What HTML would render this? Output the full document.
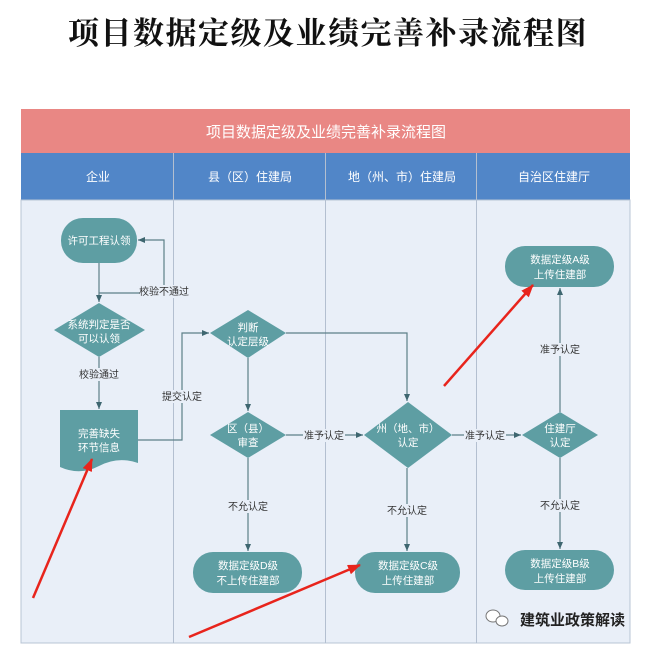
<!DOCTYPE html>
<html><head><meta charset="utf-8"><style>
html,body{margin:0;padding:0;background:#fff;}
svg{display:block;}
text{font-family:"Liberation Sans","Noto Sans CJK SC",sans-serif;}
</style></head><body>
<svg width="650" height="649" viewBox="0 0 650 649" xmlns="http://www.w3.org/2000/svg">
<defs>
<marker id="ar" markerWidth="8" markerHeight="8" refX="7" refY="4" orient="auto" markerUnits="userSpaceOnUse"><path d="M0,1 L7,4 L0,7 Z" fill="#3e6670"/></marker>
<marker id="rd" markerWidth="14" markerHeight="14" refX="12" refY="7" orient="auto" markerUnits="userSpaceOnUse"><path d="M0,2 L13,7 L0,12 Z" fill="#e8241c"/></marker>
</defs>
<text x="328" y="44" text-anchor="middle" font-size="31" font-weight="bold" fill="#111" style="font-family:'Noto Serif CJK SC',serif" letter-spacing="1.5">项目数据定级及业绩完善补录流程图</text>
<rect x="21" y="109" width="609" height="44" fill="#e98784"/>
<text x="326" y="137" text-anchor="middle" font-size="15" fill="#fff">项目数据定级及业绩完善补录流程图</text>
<rect x="21" y="153" width="609" height="47" fill="#5186c8"/>
<g font-size="12" fill="#fff" text-anchor="middle">
<text x="98" y="181">企业</text><text x="250" y="181">县（区）住建局</text><text x="402" y="181">地（州、市）住建局</text><text x="554" y="181">自治区住建厅</text>
</g>
<rect x="21" y="200" width="609" height="443" fill="#e9eff8" stroke="#b8c4d4"/>
<g stroke="#b3bfd0" stroke-width="1">
<line x1="173.5" y1="153" x2="173.5" y2="643"/><line x1="325.5" y1="153" x2="325.5" y2="643"/><line x1="476.5" y1="153" x2="476.5" y2="643"/>
</g>
<g stroke="#5d7f88" stroke-width="1.2" fill="none">
<line x1="99" y1="263" x2="99" y2="302" marker-end="url(#ar)"/>
<polyline points="99,293 164,293 164,240 138,240" marker-end="url(#ar)"/>
<line x1="99" y1="357" x2="99" y2="409" marker-end="url(#ar)"/>
<polyline points="138,440 182,440 182,333 209,333" marker-end="url(#ar)"/>
<polyline points="286,333 407,333 407,401" marker-end="url(#ar)"/>
<line x1="248" y1="358" x2="248" y2="411" marker-end="url(#ar)"/>
<line x1="286" y1="435" x2="363" y2="435" marker-end="url(#ar)"/>
<line x1="452" y1="435" x2="521" y2="435" marker-end="url(#ar)"/>
<line x1="560" y1="412" x2="560" y2="288" marker-end="url(#ar)"/>
<line x1="248" y1="458" x2="248" y2="551" marker-end="url(#ar)"/>
<line x1="407" y1="468" x2="407" y2="551" marker-end="url(#ar)"/>
<line x1="560" y1="458" x2="560" y2="549" marker-end="url(#ar)"/>
</g>
<g fill="#5e9ea3">
<rect x="61" y="218" width="76" height="45" rx="22"/>
<polygon points="99,303 145,330 99,357 54,330"/>
<path d="M60,410 H138 V463 Q118,456 99,466 Q80,476 60,467 Z"/>
<polygon points="248,310 286,333 248,358 210,333"/>
<polygon points="248,412 286,435 248,458 210,435"/>
<polygon points="408,402 452,435 408,468 364,435"/>
<polygon points="560,412 598,435 560,458 522,435"/>
<rect x="505" y="246" width="109" height="41" rx="20"/>
<rect x="193" y="552" width="109" height="41" rx="20"/>
<rect x="355" y="552" width="105" height="41" rx="20"/>
<rect x="505" y="550" width="109" height="40" rx="20"/>
</g>
<g font-size="10.5" fill="#fff" text-anchor="middle">
<text x="99" y="244">许可工程认领</text>
<text x="99" y="328">系统判定是否</text><text x="99" y="342">可以认领</text>
<text x="99" y="437">完善缺失</text><text x="99" y="451">环节信息</text>
<text x="248" y="331">判断</text><text x="248" y="345">认定层级</text>
<text x="248" y="432">区（县）</text><text x="248" y="446">审查</text>
<text x="408" y="432">州（地、市）</text><text x="408" y="446">认定</text>
<text x="560" y="432">住建厅</text><text x="560" y="446">认定</text>
<text x="560" y="263">数据定级A级</text><text x="560" y="278">上传住建部</text>
<text x="248" y="569">数据定级D级</text><text x="248" y="584">不上传住建部</text>
<text x="408" y="569">数据定级C级</text><text x="408" y="584">上传住建部</text>
<text x="560" y="567">数据定级B级</text><text x="560" y="582">上传住建部</text>
</g>
<g font-size="10" fill="#333" text-anchor="middle">
<rect x="140" y="285" width="48" height="13" fill="#e9eff8"/><text x="164" y="295">校验不通过</text>
<rect x="78" y="368" width="42" height="13" fill="#e9eff8"/><text x="99" y="378">校验通过</text>
<rect x="161" y="390" width="42" height="13" fill="#e9eff8"/><text x="182" y="400">提交认定</text>
<rect x="303" y="429" width="42" height="13" fill="#e9eff8"/><text x="324" y="439">准予认定</text>
<rect x="464" y="429" width="42" height="13" fill="#e9eff8"/><text x="485" y="439">准予认定</text>
<rect x="539" y="343" width="42" height="13" fill="#e9eff8"/><text x="560" y="353">准予认定</text>
<rect x="227" y="500" width="42" height="13" fill="#e9eff8"/><text x="248" y="510">不允认定</text>
<rect x="386" y="504" width="42" height="13" fill="#e9eff8"/><text x="407" y="514">不允认定</text>
<rect x="539" y="499" width="42" height="13" fill="#e9eff8"/><text x="560" y="509">不允认定</text>
</g>
<g stroke="#e8241c" stroke-width="2.5" fill="none">
<line x1="33" y1="598" x2="92" y2="459" marker-end="url(#rd)"/>
<line x1="189" y1="637" x2="360" y2="565" marker-end="url(#rd)"/>
<line x1="444" y1="386" x2="533" y2="285" marker-end="url(#rd)"/>
</g>
<g fill="#fff" stroke="#777" stroke-width="1">
<ellipse cx="493" cy="616" rx="7" ry="6"/><ellipse cx="502" cy="621" rx="6" ry="5"/>
</g>
<text x="520" y="625" font-size="15" font-weight="bold" fill="#222">建筑业政策解读</text>
</svg>
</body></html>
